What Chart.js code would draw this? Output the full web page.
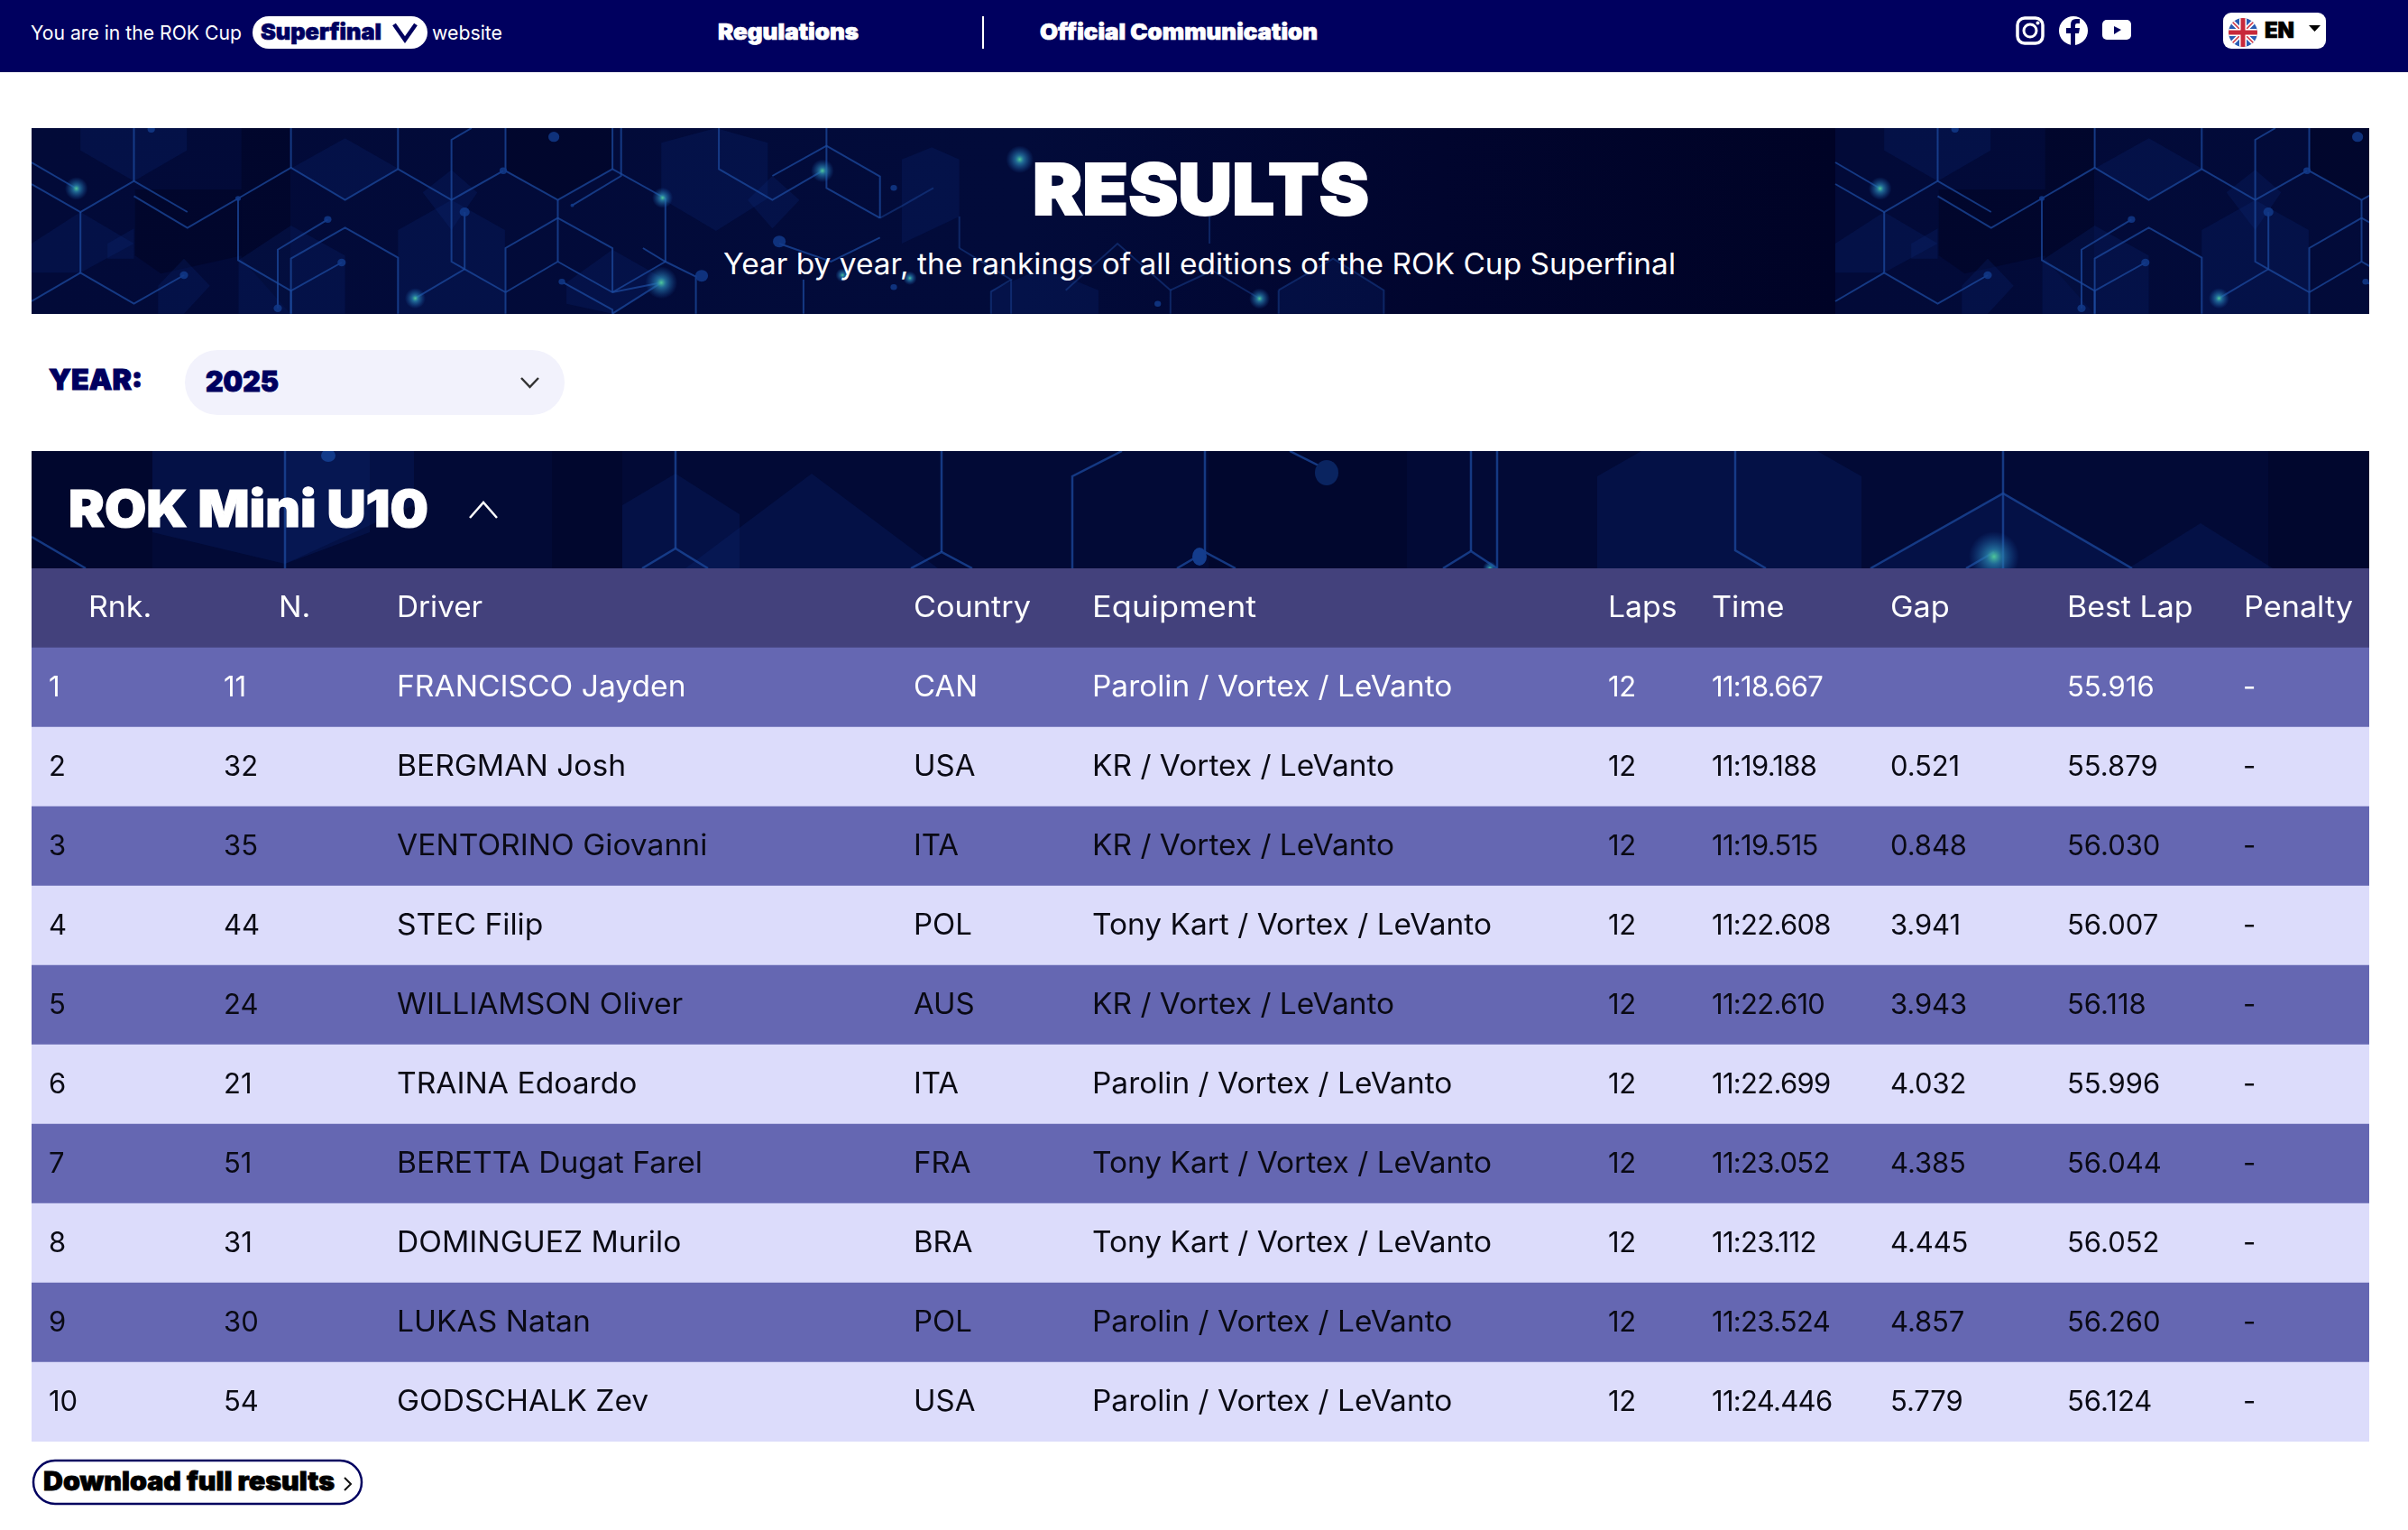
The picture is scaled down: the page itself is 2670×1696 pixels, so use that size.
<!DOCTYPE html>
<html lang="en">
<head>
<meta charset="utf-8">
<title>ROK Cup Superfinal results</title>
<script src="https://cdn.jsdelivr.net/npm/chart.js@4"></script>
<style>
  html, body { margin: 0; background: #fff; width: 2670px; height: 1696px; overflow: hidden; }
  #page, #table { position: absolute; }
  #page { left: 0; top: 0; }
  #table { left: 35px; top: 630px; }
  svg text { font-family: Inter, "Open Sans", sans-serif; }
</style>
</head>
<body>
<svg id="page" width="2670" height="1696" xmlns="http://www.w3.org/2000/svg">
  <defs>
    <linearGradient id="tileBg" x1="0" x2="1" y1="0" y2="0">
      <stop offset="0" stop-color="#020a38"/>
      <stop offset="0.55" stop-color="#020b3a"/>
      <stop offset="0.78" stop-color="#01052e"/>
      <stop offset="1" stop-color="#000326"/>
    </linearGradient>
    <radialGradient id="glow">
      <stop offset="0" stop-color="#4fc79a"/>
      <stop offset="0.3" stop-color="#2a86b0" stop-opacity="0.75"/>
      <stop offset="1" stop-color="#1a5ab0" stop-opacity="0"/>
    </radialGradient>
    <clipPath id="resultsClip"><rect x="35" y="142" width="2592" height="206"/></clipPath>
    <clipPath id="titleClip"><rect x="35" y="500" width="2592" height="130"/></clipPath>
    <clipPath id="flagClip"><circle cx="2487" cy="36" r="16"/></clipPath>
  </defs>

  <!-- top navigation -->
  <rect width="2670" height="80" fill="#00005f"/>
  <text x="34" y="44" font-size="22" fill="#fff" textLength="234" lengthAdjust="spacingAndGlyphs">You are in the ROK Cup</text>
  <rect x="280" y="18" width="194" height="36" rx="18" fill="#fff"/>
  <text x="289" y="44" font-size="25" font-weight="900" fill="#00005f" stroke="#00005f" stroke-width="0.7" textLength="134" lengthAdjust="spacingAndGlyphs">Superfinal</text>
  <path d="M437 27 L449 44 L461 27" fill="none" stroke="#00005f" stroke-width="4.5"/>
  <text x="479" y="44" font-size="22" fill="#fff" textLength="78" lengthAdjust="spacingAndGlyphs">website</text>
  <text x="796" y="44" font-size="25" font-weight="900" fill="#fff" stroke="#fff" stroke-width="0.7" textLength="156" lengthAdjust="spacingAndGlyphs">Regulations</text>
  <rect x="1089" y="18" width="2" height="36" fill="#fff"/>
  <text x="1153" y="44" font-size="25" font-weight="900" fill="#fff" stroke="#fff" stroke-width="0.7" textLength="308" lengthAdjust="spacingAndGlyphs">Official Communication</text>

  <rect x="2237" y="20" width="28" height="28" rx="8" fill="none" stroke="#fff" stroke-width="3.5"/>
  <circle cx="2251" cy="34" r="7" fill="none" stroke="#fff" stroke-width="3"/>
  <circle cx="2259.500" cy="25.500" r="2" fill="#fff"/>
  <circle cx="2299" cy="34" r="16" fill="#fff"/>
  <path d="M2296 50 V37 H2291 V31 H2296 V27 Q2296 21 2302 21 H2306 V26 H2303 Q2301 26 2301 28 V31 H2306 L2305 37 H2301 V50 Z" fill="#00005f"/>
  <rect x="2331" y="22" width="32" height="22" rx="5" fill="#fff"/>
  <path d="M2344 29 L2352 33 L2344 38 Z" fill="#00005f"/>

  <rect x="2465" y="14" width="114" height="40" rx="9" fill="#fff"/>
  <g clip-path="url(#flagClip)">
    <rect x="2471" y="20" width="32" height="32" fill="#2b5cb3"/>
    <path d="M2471 20 L2503 52 M2503 20 L2471 52" stroke="#fff" stroke-width="5"/>
    <path d="M2471 20 L2503 52 M2503 20 L2471 52" stroke="#d0303c" stroke-width="1.500"/>
    <path d="M2487 20 V52 M2471 36 H2503" stroke="#fff" stroke-width="8"/>
    <path d="M2487 20 V52 M2471 36 H2503" stroke="#c8293a" stroke-width="5"/>
  </g>
  <text x="2511" y="42" font-size="24" font-weight="900" fill="#000" stroke="#000" stroke-width="0.7" textLength="33" lengthAdjust="spacingAndGlyphs">EN</text>
  <path d="M2560 28 H2573 L2566.500 35 Z" fill="#000"/>

  <!-- results banner -->
  <g clip-path="url(#resultsClip)">
    <g id="tile"></g>
    <use href="#tile" x="2000"/>
  </g>
  <text x="1145" y="238" font-size="79" font-weight="900" fill="#fff" stroke="#fff" stroke-width="2" textLength="373" lengthAdjust="spacingAndGlyphs">RESULTS</text>
  <text x="802" y="304" font-size="32" font-weight="400" fill="#fff" textLength="1056" lengthAdjust="spacingAndGlyphs">Year by year, the rankings of all editions of the ROK Cup Superfinal</text>

  <!-- year selector -->
  <text x="54" y="432" font-size="31" font-weight="900" fill="#00005f" stroke="#00005f" stroke-width="1" textLength="104" lengthAdjust="spacingAndGlyphs">YEAR:</text>
  <rect x="205" y="388" width="421" height="72" rx="36" fill="#f2f2fc"/>
  <text x="228" y="434" font-size="31" font-weight="900" fill="#00005f" stroke="#00005f" stroke-width="1" textLength="81" lengthAdjust="spacingAndGlyphs">2025</text>
  <path d="M578 419 L587.500 429 L597 419" fill="none" stroke="#333" stroke-width="2.500"/>

  <!-- category band -->
  <g clip-path="url(#titleClip)" id="titleBand"></g>
  <text x="76" y="584" font-size="57" font-weight="900" fill="#fff" stroke="#fff" stroke-width="1.200" textLength="399" lengthAdjust="spacingAndGlyphs">ROK Mini U10</text>
  <path d="M521 574 L536 557 L551 574" fill="none" stroke="#fff" stroke-width="2.500"/>

  <!-- download button -->
  <rect x="37" y="1619" width="364" height="48" rx="24" fill="#fff" stroke="#00005f" stroke-width="2.500"/>
  <text x="48" y="1652" font-size="28" font-weight="900" fill="#000" stroke="#000" stroke-width="0.8" textLength="323" lengthAdjust="spacingAndGlyphs">Download full results</text>
  <path d="M382 1638 L389 1645 L382 1652" fill="none" stroke="#111" stroke-width="2"/>
</svg>

<canvas id="table" width="2592" height="968"></canvas>

<script>
// Table content
const headers = ["Rnk.", "N.", "Driver", "Country", "Equipment", "Laps", "Time", "Gap", "Best Lap", "Penalty"];
const ranks = ["1", "2", "3", "4", "5", "6", "7", "8", "9", "10"];
const carNumbers = ["11", "32", "35", "44", "24", "21", "51", "31", "30", "54"];
const drivers = ["FRANCISCO Jayden", "BERGMAN Josh", "VENTORINO Giovanni", "STEC Filip", "WILLIAMSON Oliver",
  "TRAINA Edoardo", "BERETTA Dugat Farel", "DOMINGUEZ Murilo", "LUKAS Natan", "GODSCHALK Zev"];
const countries = ["CAN", "USA", "ITA", "POL", "AUS", "ITA", "FRA", "BRA", "POL", "USA"];
const equipment = ["Parolin / Vortex / LeVanto", "KR / Vortex / LeVanto", "KR / Vortex / LeVanto",
  "Tony Kart / Vortex / LeVanto", "KR / Vortex / LeVanto", "Parolin / Vortex / LeVanto",
  "Tony Kart / Vortex / LeVanto", "Tony Kart / Vortex / LeVanto", "Parolin / Vortex / LeVanto",
  "Parolin / Vortex / LeVanto"];
const laps = ["12", "12", "12", "12", "12", "12", "12", "12", "12", "12"];
const times = ["11:18.667", "11:19.188", "11:19.515", "11:22.608", "11:22.610",
  "11:22.699", "11:23.052", "11:23.112", "11:23.524", "11:24.446"];
const gaps = ["", "0.521", "0.848", "3.941", "3.943", "4.032", "4.385", "4.445", "4.857", "5.779"];
const bestLaps = ["55.916", "55.879", "56.030", "56.007", "56.118", "55.996", "56.044", "56.052", "56.260", "56.124"];
const penalties = ["-", "-", "-", "-", "-", "-", "-", "-", "-", "-"];

const columns = [ranks, carNumbers, drivers, countries, equipment, laps, times, gaps, bestLaps, penalties];

// Column offsets in table pixels (x scale runs 0..2592)
const headerX = [63, 274, 405, 978, 1176, 1748, 1863, 2061, 2257, 2453];
const cellX = [19, 213, 405, 978, 1176, 1748, 1863, 2061, 2257, 2452];
// Montserrat in the original is wider on letters and tighter on digits than Inter,
// so letters get stretched and digits get tracked in
const headerStretch = [1.06, 1.06, 1.04, 1.07, 1.13, 1.055, 1.07, 1.07, 1.06, 1.07];
const cellSize = [31, 31, 32, 32, 32, 31, 31, 31, 31, 31];
const cellStretch = [1, 1, 1.05, 1.03, 1.045, 1, 1, 1, 1, 1];
const cellTracking = [0, 0, 0, 0, 0, -0.3, -0.7, -0.1, 0, 0];

function stretchedText(ctx, text, x, y, stretch) {
  ctx.save();
  ctx.translate(x, y);
  ctx.scale(stretch, 1);
  ctx.fillText(text, 0, 0);
  ctx.restore();
}

const tableText = {
  id: "tableText",
  afterDatasetsDraw(chart) {
    const { ctx, scales } = chart;
    ctx.save();
    ctx.textBaseline = "alphabetic";
    ctx.font = "400 32px Inter, sans-serif";
    ctx.letterSpacing = "0px";
    ctx.fillStyle = "#fff";
    headers.forEach((h, c) => {
      stretchedText(ctx, h, scales.x.getPixelForValue(headerX[c]), scales.y.getPixelForValue(0) + 9.7, headerStretch[c]);
    });
    ranks.forEach((r, i) => {
      // first row is white on purple, all the others are black
      ctx.fillStyle = i === 0 ? "#fff" : "#0a0a14";
      columns.forEach((col, c) => {
        ctx.font = `400 ${cellSize[c]}px Inter, sans-serif`;
        ctx.letterSpacing = cellTracking[c] + "px";
        stretchedText(ctx, col[i], scales.x.getPixelForValue(cellX[c]), scales.y.getPixelForValue(i + 1) + 9.7, cellStretch[c]);
      });
    });
    ctx.restore();
  }
};

new Chart(document.getElementById("table"), {
  type: "bar",
  data: {
    labels: ["header"].concat(ranks),
    datasets: [{
      data: ["header"].concat(ranks).map(() => 2592),
      backgroundColor: ["#43417c"].concat(ranks.map((r, i) => i % 2 === 0 ? "#6567b2" : "#dcdcfb")),
      borderWidth: 0,
      barPercentage: 1,
      categoryPercentage: 1
    }]
  },
  options: {
    indexAxis: "y",
    responsive: false,
    devicePixelRatio: 1,
    animation: false,
    layout: { padding: 0 },
    plugins: { legend: { display: false }, tooltip: { enabled: false } },
    scales: {
      x: { display: false, min: 0, max: 2592 },
      y: { display: false }
    }
  },
  plugins: [tableText]
});

// Banner artwork (anamorphic zoom units, see toTile)
const toTile = (x, y) => [(x - 55) / 1.568, (y - 36) / 3];
const polyStr = pts => pts.map(p => toTile(p[0], p[1]).map(v => v.toFixed(1)).join(",")).join(" ");

const tileFills = [
  [[140,36],[325,36],[325,110],[233,212],[140,110]],
  [[55,420],[140,315],[233,420],[140,517],[55,517]],
  [[187,420],[233,370],[233,470],[187,470]],
  [[600,70],[692,170],[600,275],[506,170]],
  [[692,375],[785,275],[878,375],[878,653],[692,653]],
  [[735,250],[785,175],[830,250],[785,375]],
  [[415,653],[415,475],[506,360],[600,460],[600,653]],
  [[1150,85],[1245,36],[1335,85],[1335,270],[1245,378],[1150,270]],
  [[1300,275],[1343,195],[1390,275],[1343,370]],
  [[275,560],[320,470],[365,560],[320,653],[275,653]],
  [[985,550],[1065,440],[1157,540],[1065,653],[985,620]],
  [[1568,140],[1620,100],[1668,140],[1668,330],[1568,420]],
  [[1723,653],[1723,575],[1815,500],[1910,575],[1910,653]],
  [[2223,653],[2223,575],[2318,470],[2406,575],[2406,653]]
];
const tileDarks = [
  [[420,36],[505,36],[505,653],[420,470]],
  [[235,240],[420,240],[420,460],[280,520],[235,460]],
  [[880,36],[1065,36],[1065,172],[970,275],[880,178]]
];
const tileLines = [
  [[55,150],[133,237]], [[55,222],[140,315],[233,212],[326,315]], [[233,36],[233,212]],
  [[233,262],[326,368],[414,270],[506,168],[600,275],[692,172],[785,275],[875,178]],
  [[506,36],[506,168]], [[692,36],[692,172]], [[785,275],[785,480],[808,505]],
  [[785,275],[785,75],[820,36]], [[808,315],[808,505],[722,602]], [[808,505],[879,582]],
  [[879,36],[879,178],[970,275],[1065,172],[1157,270]], [[1065,36],[1065,172]],
  [[1080,36],[1080,195],[995,293]], [[970,275],[970,480]], [[970,335],[879,435],[879,653]],
  [[970,335],[1065,435],[1065,582]], [[970,480],[879,582]], [[970,480],[1065,582],[1150,550]],
  [[1157,270],[1157,480],[1065,582]], [[1118,435],[1157,480],[1210,530],[1210,653]],
  [[980,550],[1065,640],[1065,653]], [[1065,653],[1150,550]],
  [[140,315],[140,517],[233,620],[320,525]], [[140,517],[55,612]],
  [[414,270],[414,475],[506,577],[594,483]], [[483,635],[483,440],[570,340]],
  [[506,653],[506,470],[600,367],[692,467],[692,653]], [[506,577],[506,653]],
  [[1250,36],[1250,172],[1343,275],[1430,178]], [[1343,195],[1437,95],[1530,197],[1530,335]],
  [[1437,36],[1437,235],[1530,335]],
  [[1530,400],[1445,480],[1355,420]], [[1397,653],[1397,540]]
];
// same artwork, but fainter once it passes behind the heading
const tileFaintLines = [
  [[1530,335],[1568,295],[1623,235]],
  [[1668,435],[1758,540],[1723,580],[1723,653]], [[1668,330],[1668,435]], [[1758,540],[1758,653]],
  [[1853,575],[1943,420],[2035,575],[2035,653]], [[2035,575],[2108,510],[2190,603]],
  [[2223,575],[2318,470],[2406,575],[2406,653]], [[2223,575],[2223,653]], [[2103,330],[2103,420]]
];
const tileDots = [[320,525,9],[414,270,6],[594,483,9],[570,340,8],[483,635,9],[875,178,8],
  [808,315,11],[963,65,12],[995,293,4],[977,547,7],[1220,527,14],[1355,413,14],[1554,235,7],[1554,565,7],[263,40,8],[2013,620,7]];
const tileGlows = [[133,237,20],[722,602,18],[1152,268,18],[1150,550,28],[1430,178,20],[1773,140,24],[2190,603,18],[1582,535,12],[1465,525,12]];

function buildTile() {
  let s = '<rect width="2000" height="206" fill="url(#tileBg)"/>';
  tileDarks.forEach(p => { s += `<polygon points="${polyStr(p)}" fill="#00021f" opacity="0.45"/>`; });
  tileFills.forEach(p => { s += `<polygon points="${polyStr(p)}" fill="#0c2f7e" opacity="0.22"/>`; });
  tileLines.forEach(p => {
    s += `<polyline points="${polyStr(p)}" fill="none" stroke="#1c4a9e" stroke-width="2" opacity="0.75"/>`;
  });
  tileFaintLines.forEach(p => {
    s += `<polyline points="${polyStr(p)}" fill="none" stroke="#1c4a9e" stroke-width="2" opacity="0.45"/>`;
  });
  tileDots.forEach(d => {
    const c = toTile(d[0], d[1]);
    s += `<ellipse cx="${c[0].toFixed(1)}" cy="${c[1].toFixed(1)}" rx="${(d[2] / 1.568 * 0.8).toFixed(1)}" ry="${(d[2] / 3 * 1.4).toFixed(1)}" fill="#123a8a" opacity="0.85"/>`;
  });
  tileGlows.forEach(d => {
    const c = toTile(d[0], d[1]);
    s += `<circle cx="${c[0].toFixed(1)}" cy="${c[1].toFixed(1)}" r="${(d[2] / 1.568).toFixed(1)}" fill="url(#glow)"/>`;
  });
  document.getElementById("tile").innerHTML = `<g transform="translate(35,142)">${s}</g>`;
}

// Second band, same artwork blown up (absolute page pixels)
const bandFills = [
  [[169,500],[459,500],[459,560],[316,625],[169,590]],
  [[316,500],[410,500],[410,590],[316,625]],
  [[690,560],[749,525],[820,570],[820,630],[690,630]],
  [[760,630],[900,525],[1040,630]],
  [[1771,630],[1771,528],[1820,500],[2015,500],[2064,528],[2064,630]],
  [[2074,630],[2221,547],[2364,630]],
  [[2360,630],[2440,580],[2520,630]]
];
const bandDarks = [
  [[35,500],[169,500],[169,630],[35,630]],
  [[612,500],[690,500],[690,630],[612,630]],
  [[1340,500],[1560,500],[1560,630],[1340,630]],
  [[2515,500],[2627,500],[2627,630],[2515,630]]
];
const bandLines = [
  [[35,595],[95,630]], [[316,500],[316,630]], [[749,500],[749,608]], [[712,630],[749,608],[785,630]],
  [[1044,500],[1044,612]], [[1010,630],[1044,612],[1078,630]],
  [[1189,630],[1189,528],[1244,500]], [[1336,500],[1336,612]], [[1305,630],[1336,612],[1370,630]],
  [[1430,500],[1470,520]], [[1631,500],[1631,611]], [[1660,500],[1660,630]], [[1600,630],[1631,611],[1660,630]],
  [[1924,500],[1924,610],[1958,630]], [[2221,500],[2221,630]], [[2074,630],[2221,547],[2364,630]],
  [[2180,630],[2211,612]]
];

function buildBand() {
  const pts = p => p.map(q => q.join(",")).join(" ");
  let s = '<rect x="35" y="500" width="2592" height="130" fill="#020a36"/>';
  bandDarks.forEach(p => { s += `<polygon points="${pts(p)}" fill="#00031f" opacity="0.3"/>`; });
  bandFills.forEach(p => { s += `<polygon points="${pts(p)}" fill="#0c2f7e" opacity="0.22"/>`; });
  bandLines.forEach(p => { s += `<polyline points="${pts(p)}" fill="none" stroke="#1c4a9e" stroke-width="2.500" opacity="0.75"/>`; });
  s += '<ellipse cx="1471" cy="524" rx="13" ry="14" fill="#0a2460"/>';
  s += '<ellipse cx="1330" cy="617" rx="8" ry="10" fill="#143c8c"/>';
  s += '<ellipse cx="364" cy="505" rx="8" ry="7" fill="#123a8a"/>';
  s += '<circle cx="2211" cy="617" r="28" fill="url(#glow)"/>';
  s += '<circle cx="1652" cy="630" r="8" fill="url(#glow)"/>';
  document.getElementById("titleBand").innerHTML = s;
}

buildTile();
buildBand();
</script>
</body>
</html>
